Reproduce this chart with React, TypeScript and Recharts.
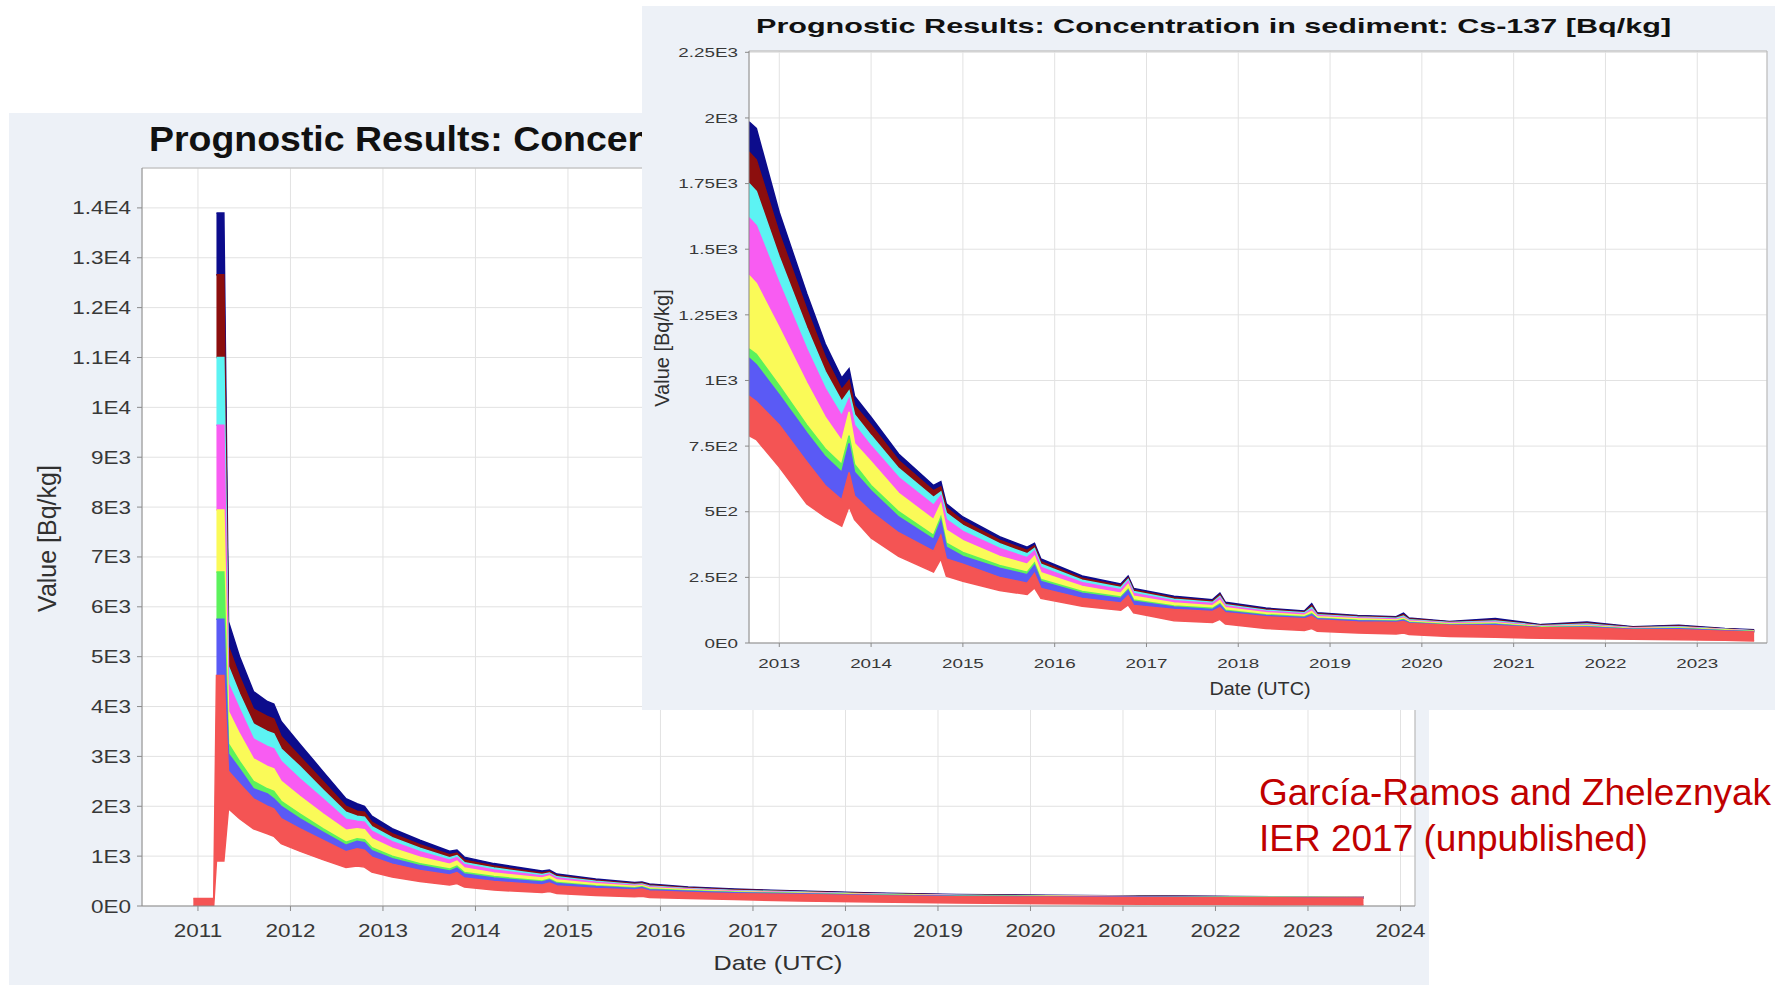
import React from "react";
import { AreaChart, Area, XAxis, YAxis, CartesianGrid, ReferenceLine } from "recharts";

const FONT = '"Liberation Sans", Arial, sans-serif';

// ---- back chart (2011-2024), band edges from top (navy) to bottom (red) ----
const backYears = [2010.95, 2011.17, 2011.2, 2011.28, 2011.33, 2011.45, 2011.6, 2011.75, 2011.82, 2011.9, 2012.1, 2012.35, 2012.6, 2012.72, 2012.8, 2012.88, 2013.1, 2013.4, 2013.72, 2013.8, 2013.88, 2014.2, 2014.72, 2014.8, 2014.88, 2015.3, 2015.72, 2015.8, 2015.88, 2016.3, 2016.8, 2017.5, 2018.3, 2019.2, 2020.2, 2021.2, 2022.2, 2023.0, 2023.6];
const backNavyTop = [null, null, 13900, 13900, 5700, 5000, 4300, 4100, 4050, 3700, 3250, 2700, 2150, 2050, 2000, 1800, 1550, 1320, 1100, 1120, 980, 850, 700, 720, 640, 540, 470, 480, 440, 380, 340, 300, 260, 230, 215, 200, 190, 185, 180];
const backNavyLow = [null, null, 12660, 12660, 5200, 4600, 3950, 3800, 3750, 3400, 3000, 2500, 2000, 1900, 1880, 1680, 1450, 1230, 1030, 1060, 920, 800, 660, 690, 610, 515, 450, 460, 420, 365, 325, 290, 250, 222, 208, 194, 185, 180, 176];
const backDarkRedLow = [null, null, 11000, 11000, 4800, 4250, 3650, 3500, 3450, 3150, 2800, 2330, 1880, 1800, 1780, 1590, 1370, 1160, 970, 1010, 870, 760, 630, 660, 585, 495, 432, 442, 402, 352, 312, 280, 243, 216, 203, 190, 182, 177, 173];
const backCyanLow = [null, null, 9640, 9640, 4450, 3950, 3350, 3200, 3150, 2900, 2550, 2150, 1740, 1700, 1680, 1500, 1290, 1090, 920, 970, 830, 720, 600, 640, 560, 475, 415, 428, 388, 340, 300, 272, 237, 211, 199, 187, 179, 175, 171];
const backMagentaLow = [null, null, 7940, 7940, 3900, 3450, 2950, 2800, 2750, 2500, 2200, 1850, 1520, 1550, 1530, 1350, 1160, 980, 840, 900, 760, 660, 560, 600, 520, 445, 395, 410, 368, 325, 288, 262, 230, 206, 195, 184, 176, 173, 169];
const backYellowLow = [null, null, 6700, 6700, 3250, 2900, 2500, 2350, 2300, 2100, 1850, 1550, 1280, 1350, 1330, 1170, 1000, 850, 740, 800, 670, 590, 500, 540, 470, 405, 365, 385, 340, 305, 274, 250, 222, 200, 190, 180, 173, 170, 167];
const backGreenLow = [null, null, 5750, 5750, 3050, 2750, 2350, 2250, 2150, 2000, 1750, 1480, 1220, 1300, 1270, 1110, 950, 810, 700, 760, 640, 560, 480, 520, 450, 390, 352, 372, 328, 295, 266, 245, 218, 196, 187, 178, 171, 168, 165];
const backBlueLow = [150, 150, 4620, 4620, 2700, 2450, 2150, 2000, 1950, 1750, 1550, 1320, 1090, 1150, 1120, 980, 840, 710, 620, 670, 560, 490, 420, 460, 400, 350, 320, 340, 300, 270, 245, 230, 205, 185, 178, 170, 165, 162, 160];
const backRedLow = [0, 0, 900, 900, 1950, 1750, 1550, 1450, 1400, 1250, 1100, 930, 770, 800, 780, 680, 580, 490, 420, 450, 380, 320, 270, 290, 250, 210, 185, 195, 170, 150, 130, 100, 80, 60, 45, 35, 30, 25, 20];

// ---- front chart (Cs-137 in sediment, 2013-2023) ----
const frontYears = [2012.67, 2012.75, 2013.0, 2013.3, 2013.5, 2013.68, 2013.76, 2013.82, 2014.0, 2014.3, 2014.68, 2014.76, 2014.82, 2015.0, 2015.4, 2015.7, 2015.78, 2015.85, 2016.3, 2016.72, 2016.8, 2016.86, 2017.3, 2017.72, 2017.8, 2017.86, 2018.3, 2018.72, 2018.8, 2018.86, 2019.3, 2019.72, 2019.8, 2019.86, 2020.3, 2020.8, 2021.3, 2021.8, 2022.3, 2022.8, 2023.3, 2023.62];
const frontNavyTop = [1985, 1960, 1640, 1330, 1140, 1010, 1045, 940, 860, 720, 600, 615, 530, 480, 405, 365, 380, 320, 255, 225, 255, 208, 178, 165, 190, 155, 133, 122, 150, 115, 105, 100, 114, 95, 82, 93, 70, 80, 62, 68, 55, 50];
const frontNavyLow = [1870, 1840, 1560, 1270, 1090, 965, 1000, 905, 830, 695, 580, 595, 515, 465, 392, 353, 370, 310, 247, 218, 248, 202, 172, 160, 184, 150, 129, 118, 142, 111, 102, 97, 108, 92, 80, 88, 68, 76, 60, 65, 53, 48];
const frontDarkRedLow = [1750, 1720, 1470, 1200, 1035, 920, 960, 870, 790, 665, 555, 575, 495, 448, 378, 340, 360, 300, 239, 211, 242, 196, 167, 155, 178, 146, 125, 115, 135, 108, 99, 94, 103, 89, 78, 84, 66, 72, 58, 62, 52, 47];
const frontCyanLow = [1620, 1590, 1370, 1120, 970, 865, 930, 830, 750, 630, 525, 560, 470, 425, 360, 325, 350, 288, 230, 203, 235, 189, 161, 150, 172, 141, 121, 111, 128, 105, 96, 91, 98, 86, 76, 80, 64, 69, 57, 60, 51, 46];
const frontMagentaLow = [1400, 1370, 1200, 990, 860, 770, 880, 760, 690, 570, 470, 530, 430, 390, 330, 300, 330, 268, 215, 190, 222, 178, 152, 142, 162, 134, 115, 106, 120, 100, 92, 88, 94, 83, 73, 76, 62, 66, 55, 58, 50, 45];
const frontYellowLow = [1120, 1100, 980, 830, 740, 680, 790, 680, 600, 500, 410, 480, 380, 345, 295, 270, 305, 242, 196, 175, 205, 164, 141, 132, 150, 125, 108, 100, 112, 94, 87, 84, 89, 79, 70, 72, 60, 63, 53, 56, 48, 44];
const frontGreenLow = [1085, 1060, 945, 800, 710, 650, 760, 650, 580, 480, 395, 465, 365, 330, 285, 260, 295, 234, 190, 170, 200, 159, 137, 128, 146, 121, 105, 97, 108, 92, 85, 82, 87, 77, 68, 70, 58, 61, 52, 54, 47, 43];
const frontBlueLow = [940, 920, 830, 690, 600, 545, 650, 560, 500, 420, 350, 410, 320, 300, 250, 228, 265, 208, 170, 152, 180, 143, 128, 120, 135, 115, 100, 92, 102, 88, 80, 78, 82, 74, 68, 66, 58, 58, 50, 50, 45, 42];
const frontRedLow = [790, 775, 670, 530, 480, 445, 520, 470, 400, 330, 270, 320, 255, 235, 200, 185, 210, 170, 140, 125, 145, 115, 85, 78, 90, 72, 55, 48, 55, 45, 38, 34, 38, 32, 25, 22, 18, 16, 14, 12, 10, 8];

const backTicksX = [2011, 2012, 2013, 2014, 2015, 2016, 2017, 2018, 2019, 2020, 2021, 2022, 2023, 2024];
const backTicksY = [0, 1000, 2000, 3000, 4000, 5000, 6000, 7000, 8000, 9000, 10000, 11000, 12000, 13000, 14000];
const frontTicksX = [2013, 2014, 2015, 2016, 2017, 2018, 2019, 2020, 2021, 2022, 2023];
const frontTicksY = [0, 250, 500, 750, 1000, 1250, 1500, 1750, 2000, 2250];

const bandKeys = ["navy", "darkRed", "cyan", "magenta", "yellow", "green", "blue", "red"];
const bandColors: Record<string, string> = {
  navy: "#0c0c8c",
  darkRed: "#8c0e0e",
  cyan: "#5cf3f3",
  magenta: "#f85cf2",
  yellow: "#fafa58",
  green: "#5cf25c",
  blue: "#5a5af5",
  red: "#f45454",
};

function buildRows(years: number[], edges: (number | null)[][]) {
  return years.map((t, i) => {
    const row: any = { t };
    bandKeys.forEach((k, j) => {
      const hi = edges[j][i];
      const lo = edges[j + 1][i];
      row[k] = hi == null || lo == null ? null : [lo, hi];
    });
    return row;
  });
}

const backRows = buildRows(backYears, [backNavyTop, backNavyLow, backDarkRedLow, backCyanLow, backMagentaLow, backYellowLow, backGreenLow, backBlueLow, backRedLow]);
const frontRows = buildRows(frontYears, [frontNavyTop, frontNavyLow, frontDarkRedLow, frontCyanLow, frontMagentaLow, frontYellowLow, frontGreenLow, frontBlueLow, frontRedLow]);

function sciLabel(v: number) {
  if (v === 0) return "0E0";
  const e = Math.floor(Math.log10(v) + 1e-9);
  const m = +(v / Math.pow(10, e)).toFixed(2);
  return `${m}E${e}`;
}

const makeTick = (size: number, sx: number, dy: number, anchor: string, sci: boolean) => (props: any) => {
  const { x, y, payload } = props;
  return (
    <g transform={`translate(${x},${y + dy})`}>
      <text transform={`scale(${sx},1)`} textAnchor={anchor} fontSize={size} fontFamily={FONT} fill="#383838">
        {sci ? sciLabel(payload.value) : String(payload.value)}
      </text>
    </g>
  );
};

const renderBands = () =>
  bandKeys.map((k) => (
    <Area
      key={k}
      dataKey={k}
      type="linear"
      fill={bandColors[k]}
      fillOpacity={1}
      stroke={bandColors[k]}
      strokeWidth={1.5}
      isAnimationActive={false}
      dot={false}
      activeDot={false}
    />
  ));

const panelBg = "#edf1f7";

const Label = ({ text, left, top, size, sx = 1, bold = false, color = "#303030", width = 0, align = "left" }: any) => (
  <div
    style={{
      position: "absolute",
      left,
      top,
      width: width || undefined,
      fontFamily: FONT,
      fontSize: size,
      lineHeight: 1,
      fontWeight: bold ? 700 : 400,
      color,
      whiteSpace: "nowrap",
      textAlign: align,
      transform: `scaleX(${sx})`,
      transformOrigin: align === "center" ? "50% 50%" : "0 50%",
    }}
  >
    {text}
  </div>
);

const Vertical = ({ text, cx, cy, size }: any) => (
  <div
    style={{
      position: "absolute",
      left: cx - 150,
      top: cy - size / 2,
      width: 300,
      height: size,
      lineHeight: `${size}px`,
      fontFamily: FONT,
      fontSize: size,
      color: "#303030",
      textAlign: "center",
      whiteSpace: "nowrap",
      transform: "rotate(-90deg)",
      transformOrigin: "50% 50%",
    }}
  >
    {text}
  </div>
);

export default function App() {
  return (
    <div style={{ position: "absolute", left: 0, top: 0, width: 1775, height: 987, background: "#ffffff", overflow: "hidden" }}>
      {/* back chart */}
      <div style={{ position: "absolute", left: 9, top: 113, width: 1420, height: 872, background: panelBg }}>
        <AreaChart width={1420} height={872} data={backRows} margin={{ top: 55, right: 14, bottom: 0, left: 0 }}>
          <CartesianGrid stroke="#e2e2e2" fill="#ffffff" fillOpacity={1} />
          <XAxis
            dataKey="t"
            type="number"
            domain={[2010.395, 2024.157]}
            ticks={backTicksX}
            interval={0}
            allowDataOverflow
            height={79}
            stroke="#8a8a8a"
            tickSize={5}
            tickMargin={2}
            tick={makeTick(18, 1.25, 23.5, "middle", false)}
          />
          <YAxis
            type="number"
            domain={[0, 14800]}
            ticks={backTicksY}
            interval={0}
            allowDataOverflow
            width={133}
            stroke="#8a8a8a"
            tickSize={5}
            tickMargin={6}
            tick={makeTick(18, 1.25, 6.5, "end", true)}
          />
          <ReferenceLine y={14800} stroke="#b8b8b8" />
          <ReferenceLine x={2024.157} stroke="#b8b8b8" />
          {renderBands()}
        </AreaChart>
      </div>
      <Label text="Prognostic Results: Concen" left={149} top={120.5} size={35} sx={1.07} bold color="#111111" />
      <Label text="Date (UTC)" left={578} top={952} size={21} sx={1.2} width={400} align="center" />
      <Vertical text="Value [Bq/kg]" cx={47} cy={538} size={25} />

      {/* front (inset) chart */}
      <div style={{ position: "absolute", left: 642, top: 6, width: 1133, height: 704, background: panelBg }}>
        <AreaChart width={1133} height={704} data={frontRows} margin={{ top: 45, right: 8, bottom: 0, left: 0 }}>
          <CartesianGrid stroke="#e2e2e2" fill="#ffffff" fillOpacity={1} />
          <XAxis
            dataKey="t"
            type="number"
            domain={[2012.67, 2023.76]}
            ticks={frontTicksX}
            interval={0}
            allowDataOverflow
            height={67}
            stroke="#8a8a8a"
            tickSize={4}
            tickMargin={2}
            tick={makeTick(13, 1.45, 19, "middle", false)}
          />
          <YAxis
            type="number"
            domain={[0, 2255]}
            ticks={frontTicksY}
            interval={0}
            allowDataOverflow
            width={107}
            stroke="#8a8a8a"
            tickSize={4}
            tickMargin={7}
            tick={makeTick(13, 1.45, 4.7, "end", true)}
          />
          <ReferenceLine y={2255} stroke="#b8b8b8" />
          <ReferenceLine x={2023.76} stroke="#b8b8b8" />
          {renderBands()}
        </AreaChart>
      </div>
      <Label text="Prognostic Results: Concentration in sediment: Cs-137 [Bq/kg]" left={756} top={15} size={21} sx={1.455} bold color="#111111" />
      <Label text="Date (UTC)" left={1060} top={680} size={18} sx={1.1} width={400} align="center" />
      <Vertical text="Value [Bq/kg]" cx={662} cy={348} size={20} />

      {/* annotation */}
      <Label text="García-Ramos and Zheleznyak" left={1259} top={774} size={37} color="#c00000" />
      <Label text="IER 2017 (unpublished)" left={1259} top={820} size={37} color="#c00000" />
    </div>
  );
}
